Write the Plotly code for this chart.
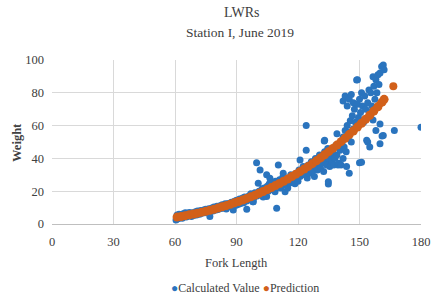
import plotly.graph_objects as go

# Prediction curve (fork length, weight); last point is the isolated prediction
pred_len = [61, 63, 65, 67, 69, 71, 73, 75, 77, 79, 81, 83, 85, 87, 89, 91, 93, 95, 97, 99,
            101, 103, 105, 107, 109, 111, 113, 115, 117, 119, 121, 123, 125, 127, 129, 131,
            133, 135, 137, 139, 141, 143, 145, 147, 149, 151, 153, 155, 157, 159, 161, 162, 166.5]
pred_wt = [4.2, 4.6, 5.1, 5.6, 6.1, 6.6, 7.2, 7.7, 8.4, 9.0, 9.7, 10.5, 11.2, 12.0, 12.9, 13.7,
           14.6, 15.6, 16.6, 17.6, 18.7, 19.8, 21.0, 22.2, 23.4, 24.7, 26.1, 27.4, 28.9, 30.4,
           31.9, 33.5, 35.1, 36.8, 38.5, 40.3, 42.2, 44.1, 46.1, 48.1, 50.2, 52.3, 54.5, 56.7,
           59.1, 61.4, 63.9, 66.3, 68.9, 71.5, 74.3, 76.0, 84.0]

# Calculated values (fork length, weight)
calc_len = [60.5, 61, 61.5, 62, 62.5, 63, 63.5, 64, 64.5, 65, 65.5, 66, 66.5, 67, 68, 68.5, 69,
            70, 70.5, 71, 72, 72.5, 73, 74, 74.5, 75, 76, 76.5, 77, 77, 78, 78.5, 79, 80, 80.5,
            81, 82, 82.5, 83, 84, 84.5, 85, 86, 87, 87.5, 88, 88.4, 89, 89.5, 90, 90, 91, 91.5,
            92, 93, 93.5, 94, 95, 95, 96, 96, 97, 98, 98.2, 98.5, 99, 99.8, 100, 100.6, 101.5,
            101, 102, 102.5, 103, 103.5, 104, 104.7, 104.7, 105, 105.5, 106, 106.3, 107, 107.5,
            108, 108.8, 109, 109.6, 110, 110.4, 111, 111.5, 112, 112.7, 112.8, 113, 113.7, 114,
            114.5, 115, 115.5, 116, 116.5, 117, 117.7, 118, 118.5, 119, 119.5, 120, 120.5, 121,
            121, 122, 122.5, 123, 124, 124, 124, 124.5, 125, 125.5, 126, 126.5, 127, 127.5, 128,
            128.5, 129, 129.5, 130, 130.5, 131, 131.5, 132, 132.5, 132.8, 133, 133, 133.5, 134,
            134.5, 134.8, 134.8, 135, 135.5, 136, 136.5, 137, 137.5, 138, 138.5, 139, 139, 139.5,
            140, 140.5, 141, 141.5, 142, 142, 142, 142.5, 143, 143, 143.5, 143.7, 144, 144, 144.5,
            145, 145, 145, 145.5, 146, 146, 146.5, 147, 147, 147.5, 148, 148.6, 149, 149, 149.5,
            150, 150, 150.5, 151, 151, 151.5, 152, 152.5, 153, 153.5, 154, 154, 154.6, 155, 155,
            155.5, 156, 156.6, 156.6, 157, 157.5, 158, 158, 158.5, 159, 159.5, 160, 160, 160,
            160.8, 161, 161.6, 161.6, 162, 167, 180]
calc_wt = [2.5, 5.5, 3.2, 6.0, 4.0, 5.8, 3.5, 6.2, 4.5, 6.8, 4.2, 6.5, 5.0, 7.0, 4.6, 6.8, 5.2,
           7.5, 5.5, 8.0, 6.0, 8.2, 6.5, 8.5, 6.8, 9.0, 7.0, 9.3, 7.5, 4.5, 9.8, 8.0, 10.3, 8.5,
           10.8, 8.8, 11.2, 9.5, 11.8, 9.8, 12.3, 9.2, 12.5, 10.5, 13.2, 11.0, 8.5, 13.8, 11.5,
           14.5, 11.6, 12.0, 15.2, 12.5, 15.8, 13.0, 16.5, 9.0, 14.0, 17.0, 15.5, 18.5, 13.6,
           13.6, 16.0, 19.0, 37.4, 17.0, 24.8, 33.0, 20.0, 18.5, 21.5, 16.5, 22.0, 19.0, 16.7,
           30.0, 23.0, 20.0, 24.5, 27.9, 21.0, 25.0, 22.5, 19.7, 26.0, 9.6, 24.0, 36.0, 27.0,
           22.0, 26.0, 29.0, 30.9, 24.0, 19.7, 28.0, 23.8, 22.0, 27.0, 25.0, 30.0, 26.5, 26.8,
           29.0, 24.5, 31.0, 28.0, 26.0, 33.0, 39.0, 29.0, 31.0, 35.0, 30.0, 45.0, 33.0, 60.0,
           28.0, 36.0, 31.0, 34.0, 38.0, 32.0, 36.0, 29.0, 40.0, 35.0, 33.0, 38.0, 42.0, 34.0,
           37.0, 40.0, 32.0, 50.6, 44.0, 51.0, 38.0, 36.0, 46.0, 24.4, 25.8, 40.0, 35.0, 42.0,
           38.0, 45.0, 36.0, 40.0, 48.0, 42.0, 55.0, 36.0, 37.0, 45.0, 36.0, 50.0, 40.0, 53.0,
           75.0, 47.0, 57.0, 78.0, 44.0, 35.0, 60.0, 72.0, 52.0, 31.0, 56.0, 76.0, 63.0, 50.0,
           79.0, 66.0, 58.0, 74.0, 70.0, 62.0, 87.8, 88.0, 73.0, 65.0, 37.4, 76.0, 68.0, 80.0,
           37.6, 72.0, 62.0, 78.0, 70.0, 51.0, 74.0, 50.0, 81.7, 68.0, 47.0, 80.0, 72.0, 89.8,
           63.4, 84.0, 76.0, 88.0, 57.0, 80.0, 91.0, 85.0, 61.0, 49.0, 92.0, 96.0, 53.6, 54.0,
           97.0, 94.0, 57.0, 59.0]

series_names = ["Calculated Value", "Prediction"]
x_ticks = [0, 30, 60, 90, 120, 150, 180]
y_ticks = [0, 20, 40, 60, 80, 100]

blue = "#2A74BE"
orange = "#D2601A"
serif = "Liberation Serif"
txt = "#404040"

fig = go.Figure()
fig.add_trace(go.Scatter(x=calc_len, y=calc_wt, mode="markers", name=series_names[0],
                         marker=dict(color=blue, size=7, line=dict(width=0))))
# dense prediction band
fig.add_trace(go.Scatter(x=pred_len[:-1], y=pred_wt[:-1], mode="lines+markers",
                         name=series_names[1], line=dict(color=orange, width=7),
                         marker=dict(color=orange, size=9, line=dict(width=0))))
# isolated prediction point
fig.add_trace(go.Scatter(x=pred_len[-1:], y=pred_wt[-1:], mode="markers",
                         name=series_names[1], showlegend=False,
                         marker=dict(color=orange, size=8, line=dict(width=0))))

legend_text = (f"<span style='color:{blue}'>●</span>{series_names[0]} "
               f"<span style='color:{orange}'>●</span>{series_names[1]}")

fig.update_layout(
    width=431, height=300,
    margin=dict(l=52, r=10, t=60, b=76, autoexpand=False),
    paper_bgcolor="white", plot_bgcolor="white",
    font=dict(family=serif, size=12, color=txt),
    showlegend=False,
    annotations=[
        dict(text="LWRs", xref="paper", yref="paper", x=0.515, y=1.287,
             xanchor="center", yanchor="middle", showarrow=False,
             font=dict(family=serif, size=14, color=txt)),
        dict(text="Station I, June 2019", xref="paper", yref="paper", x=0.51, y=1.165,
             xanchor="center", yanchor="middle", showarrow=False,
             font=dict(family=serif, size=13.5, color=txt)),
        dict(text="Fork Length", xref="paper", yref="paper", x=0.501, y=-0.238,
             xanchor="center", yanchor="middle", showarrow=False,
             font=dict(family=serif, size=12.5, color=txt)),
        dict(text="<b>Weight</b>", xref="paper", yref="paper", x=-0.095, y=0.5,
             xanchor="center", yanchor="middle", showarrow=False, textangle=-90,
             font=dict(family=serif, size=12.5, color=txt)),
        dict(text=legend_text, xref="paper", yref="paper", x=0.523, y=-0.39,
             xanchor="center", yanchor="middle", showarrow=False,
             font=dict(family=serif, size=12, color=txt)),
    ],
)
fig.update_xaxes(range=[0, 180], tickvals=x_ticks,
                 showgrid=True, gridcolor="#D9D9D9", zeroline=False,
                 showline=True, linecolor="#BFBFBF", ticks="",
                 ticklabelstandoff=6,
                 tickfont=dict(family=serif, size=12.5, color=txt))
fig.update_yaxes(range=[0, 100], tickvals=y_ticks,
                 showgrid=True, gridcolor="#D9D9D9", zeroline=False,
                 showline=False, ticks="",
                 ticklabelstandoff=7,
                 tickfont=dict(family=serif, size=12.5, color=txt))

fig.write_html("out.html", config={"displayModeBar": False},
               post_script="document.body.style.margin='0';")
